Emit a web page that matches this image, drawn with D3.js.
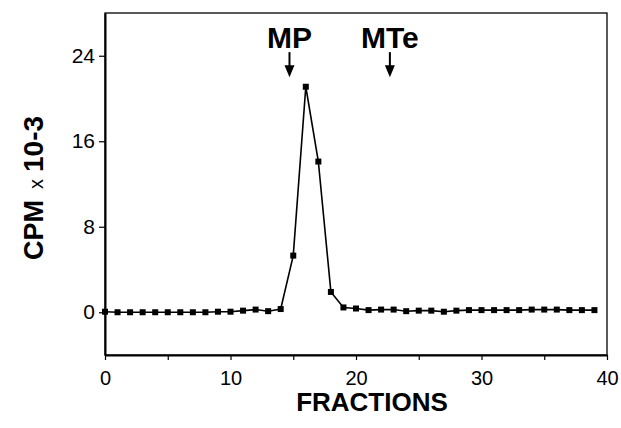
<!DOCTYPE html>
<html>
<head>
<meta charset="utf-8">
<script src="https://cdn.jsdelivr.net/npm/d3@7"></script>
<style>
  body { margin: 0; background: #fff; }
  text { font-family: Arial, "Liberation Sans", Helvetica, sans-serif; fill: #000; }
</style>
</head>
<body>
<div class="chart"></div>
<script>
// data
var fractions = d3.range(0, 40);
var cpm = [0.05, 0.0, 0.0, 0.0, 0.0, 0.0, 0.0, 0.0, 0.0, 0.05,
           0.05, 0.15, 0.25, 0.1, 0.3, 5.3, 21.1, 14.1, 1.9, 0.45,
           0.35, 0.2, 0.25, 0.25, 0.1, 0.15, 0.15, 0.05, 0.15, 0.2,
           0.2, 0.2, 0.2, 0.2, 0.25, 0.25, 0.25, 0.2, 0.2, 0.2];
var xTicks = [0, 10, 20, 30, 40];
var xMinorTicks = [0, 5, 10, 15, 20, 25, 30, 35, 40];
var yTicks = [0, 8, 16, 24];
var markerLabels = ["MP", "MTe"];
var markerFractions = [14.7, 22.7];

// chart setup
var svgWidth = 621;
var svgHeight = 428;
var margin = { top: 13, right: 14, bottom: 73, left: 105 };
var width = svgWidth - margin.left - margin.right;
var height = svgHeight - margin.top - margin.bottom;

var svg = d3.select(".chart")
  .append("svg")
  .attr("width", svgWidth)
  .attr("height", svgHeight);

var chartGroup = svg.append("g")
  .attr("transform", `translate(${margin.left}, ${margin.top})`);

var xScale = d3.scaleLinear().domain([0, 40]).range([0, width]);
var yScale = d3.scaleLinear().domain([-4, 28]).range([height, 0]);

// frame
chartGroup.append("rect")
  .attr("width", width)
  .attr("height", height)
  .attr("fill", "none")
  .attr("stroke", "#000")
  .attr("stroke-width", 1.3);

// x axis: small outward ticks every 5, labels every 10
var bottomAxis = d3.axisBottom(xScale)
  .tickValues(xMinorTicks)
  .tickSizeInner(5)
  .tickSizeOuter(0)
  .tickFormat(d => xTicks.includes(d) ? d : "");

var xAxisG = chartGroup.append("g")
  .attr("transform", `translate(0, ${height})`)
  .call(bottomAxis);
xAxisG.select(".domain").attr("stroke-width", 1.8);
xAxisG.selectAll("line").attr("stroke-width", 1.2);
xAxisG.selectAll("text")
  .attr("y", 16)
  .attr("font-size", 20)
  .attr("font-family", null);

// y axis
var leftAxis = d3.axisLeft(yScale)
  .tickValues(yTicks)
  .tickSizeInner(6)
  .tickSizeOuter(0)
  .tickPadding(4);

var yAxisG = chartGroup.append("g").call(leftAxis);
yAxisG.select(".domain").attr("stroke-width", 2);
yAxisG.selectAll("line").attr("stroke-width", 1.2);
yAxisG.selectAll("text")
  .attr("font-size", 21)
  .attr("font-family", null);

// line + square markers
var line = d3.line()
  .x((d, i) => xScale(fractions[i]))
  .y(d => yScale(d));

chartGroup.append("path")
  .datum(cpm)
  .attr("fill", "none")
  .attr("stroke", "#000")
  .attr("stroke-width", 1.6)
  .attr("d", line);

chartGroup.selectAll(".pt")
  .data(cpm)
  .enter()
  .append("rect")
  .attr("class", "pt")
  .attr("x", (d, i) => xScale(fractions[i]) - 3)
  .attr("y", d => yScale(d) - 3)
  .attr("width", 6)
  .attr("height", 6)
  .attr("fill", "#000");

// marker arrows (MP, MTe)
var tipY = yScale(22);
markerLabels.forEach(function (lab, i) {
  var mx = xScale(markerFractions[i]);
  chartGroup.append("text")
    .attr("x", mx)
    .attr("y", tipY - 29)
    .attr("text-anchor", "middle")
    .attr("font-size", 30)
    .attr("font-weight", "bold")
    .text(lab);
  chartGroup.append("line")
    .attr("x1", mx).attr("x2", mx)
    .attr("y1", tipY - 25).attr("y2", tipY - 10)
    .attr("stroke", "#000")
    .attr("stroke-width", 2);
  chartGroup.append("path")
    .attr("d", `M${mx - 5},${tipY - 12} L${mx + 5},${tipY - 12} L${mx},${tipY} Z`)
    .attr("fill", "#000");
});

// axis labels
var yLabel = svg.append("text")
  .attr("transform", "translate(43, 260) rotate(-90)")
  .attr("text-anchor", "start");
yLabel.append("tspan").attr("font-size", 27).attr("font-weight", "bold").text("CPM");
yLabel.append("tspan").attr("dx", 11).attr("font-size", 20).text("x");
yLabel.append("tspan").attr("dx", 7).attr("font-size", 28).attr("font-weight", "bold").text("10-3");

svg.append("text")
  .attr("x", 372)
  .attr("y", 411)
  .attr("text-anchor", "middle")
  .attr("font-size", 26)
  .attr("font-weight", "bold")
  .text("FRACTIONS");
</script>
</body>
</html>
